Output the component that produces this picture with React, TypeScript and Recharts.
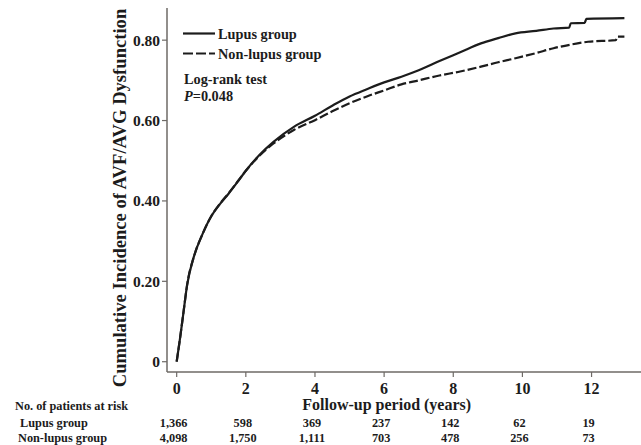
import { LineChart, Line, XAxis, YAxis } from 'recharts';

// follow-up time in years and cumulative incidence
const lupusTime = [0, 0.1, 0.2, 0.3, 0.5, 0.75, 1.0, 1.25, 1.5, 1.75, 2.0, 2.4, 2.8, 3.4, 4.0, 4.5, 5.0, 5.5, 6.0, 6.5, 7.0, 7.6, 8.2, 8.8, 9.3, 9.8, 10.4, 10.9, 11.35, 11.4, 11.8, 11.85, 12.95];
const lupusValue = [0, 0.06, 0.125, 0.19, 0.262, 0.318, 0.362, 0.392, 0.418, 0.446, 0.475, 0.515, 0.547, 0.585, 0.612, 0.637, 0.66, 0.678, 0.695, 0.709, 0.725, 0.748, 0.77, 0.792, 0.805, 0.817, 0.823, 0.829, 0.831, 0.842, 0.843, 0.853, 0.855];

const nonLupusTime = [0, 0.1, 0.2, 0.3, 0.5, 0.75, 1.0, 1.25, 1.5, 1.75, 2.0, 2.4, 2.8, 3.4, 4.0, 4.5, 5.0, 5.5, 6.0, 6.5, 7.0, 7.6, 8.2, 8.8, 9.3, 9.8, 10.4, 10.9, 11.4, 11.9, 12.7, 12.75, 12.95];
const nonLupusValue = [0, 0.06, 0.125, 0.19, 0.262, 0.318, 0.362, 0.393, 0.419, 0.447, 0.475, 0.513, 0.543, 0.577, 0.601, 0.623, 0.643, 0.66, 0.675, 0.69, 0.7, 0.712, 0.722, 0.734, 0.745, 0.755, 0.768, 0.78, 0.789, 0.796, 0.8, 0.809, 0.809];

const xTicks = [0, 2, 4, 6, 8, 10, 12];
const yTicks = [0, 0.2, 0.4, 0.6, 0.8];
const lupusAtRisk = ['1,366', '598', '369', '237', '142', '62', '19'];
const nonLupusAtRisk = ['4,098', '1,750', '1,111', '703', '478', '256', '73'];

const lupusData = lupusTime.map((t, i) => ({ t, v: lupusValue[i] }));
const nonLupusData = nonLupusTime.map((t, i) => ({ t, v: nonLupusValue[i] }));

const FONT = '"Liberation Serif", "Times New Roman", serif';
const INK = '#1c1c1c';
const AXIS = '#6e6a66';

function XTick({ x, payload }: any) {
  const i = xTicks.indexOf(payload.value);
  return (
    <g fontFamily={FONT} fontWeight="bold" fill={INK} textAnchor="middle">
      <text x={x} y={393.5} fontSize={16}>{payload.value}</text>
      <text x={x - 3} y={426.5} fontSize={12.3}>{lupusAtRisk[i]}</text>
      <text x={x - 3} y={442} fontSize={12.3}>{nonLupusAtRisk[i]}</text>
    </g>
  );
}

function formatY(v: number) {
  return v === 0 ? '0' : v.toFixed(2);
}

export default function App() {
  return (
    <div style={{ position: 'absolute', left: 0, top: 0, width: 641, height: 445, background: '#fff' }}>
      <LineChart width={641} height={445} margin={{ top: 8, right: 0, bottom: 0, left: 0 }}>
        <XAxis
          type="number"
          dataKey="t"
          domain={[-0.28, 13.43]}
          ticks={xTicks}
          allowDataOverflow
          height={73}
          tick={<XTick />}
          tickSize={5}
          axisLine={{ stroke: AXIS, strokeWidth: 1.5 }}
          tickLine={{ stroke: AXIS, strokeWidth: 1.2 }}
        />
        <YAxis
          type="number"
          domain={[-0.0256, 0.88]}
          ticks={yTicks}
          allowDataOverflow
          width={167}
          tickFormatter={formatY}
          tickSize={5}
          tickMargin={2}
          tick={{ fontSize: 15.5, fontFamily: FONT, fontWeight: 'bold', fill: INK }}
          axisLine={{ stroke: AXIS, strokeWidth: 1.5 }}
          tickLine={{ stroke: AXIS, strokeWidth: 1.2 }}
        />
        <Line
          data={lupusData}
          dataKey="v"
          type="monotone"
          stroke={INK}
          strokeWidth={2.2}
          dot={false}
          isAnimationActive={false}
        />
        <Line
          data={nonLupusData}
          dataKey="v"
          type="monotone"
          stroke={INK}
          strokeWidth={2.2}
          strokeDasharray="9 3"
          dot={false}
          isAnimationActive={false}
        />
      </LineChart>
      <svg
        width={641}
        height={445}
        style={{ position: 'absolute', left: 0, top: 0, pointerEvents: 'none' }}
        fontFamily={FONT}
        fontWeight="bold"
        fill={INK}
      >
        <text transform="translate(119,198) rotate(-90)" textAnchor="middle" dominantBaseline="central" fontSize={18.6}>
          Cumulative Incidence of AVF/AVG Dysfunction
        </text>
        <text x={386.7} y={409.5} textAnchor="middle" fontSize={16}>Follow-up period (years)</text>
        <text x={15} y={410} fontSize={12.3}>No. of patients at risk</text>
        <text x={20} y={426.5} fontSize={12.3}>Lupus group</text>
        <text x={18} y={442} fontSize={12.3}>Non-lupus group</text>

        <line x1={183} x2={215} y1={33.5} y2={33.5} stroke={INK} strokeWidth={2.2} />
        <text x={218} y={38.8} fontSize={14.3}>Lupus group</text>
        <line x1={183} x2={215} y1={53.5} y2={53.5} stroke={INK} strokeWidth={2.2} strokeDasharray="10 3" />
        <text x={218} y={58.8} fontSize={14.3}>Non-lupus group</text>
        <text x={184} y={83.5} fontSize={14.3}>Log-rank test</text>
        <text x={184} y={101} fontSize={14.3}>
          <tspan fontStyle="italic">P</tspan>=0.048
        </text>
      </svg>
    </div>
  );
}
